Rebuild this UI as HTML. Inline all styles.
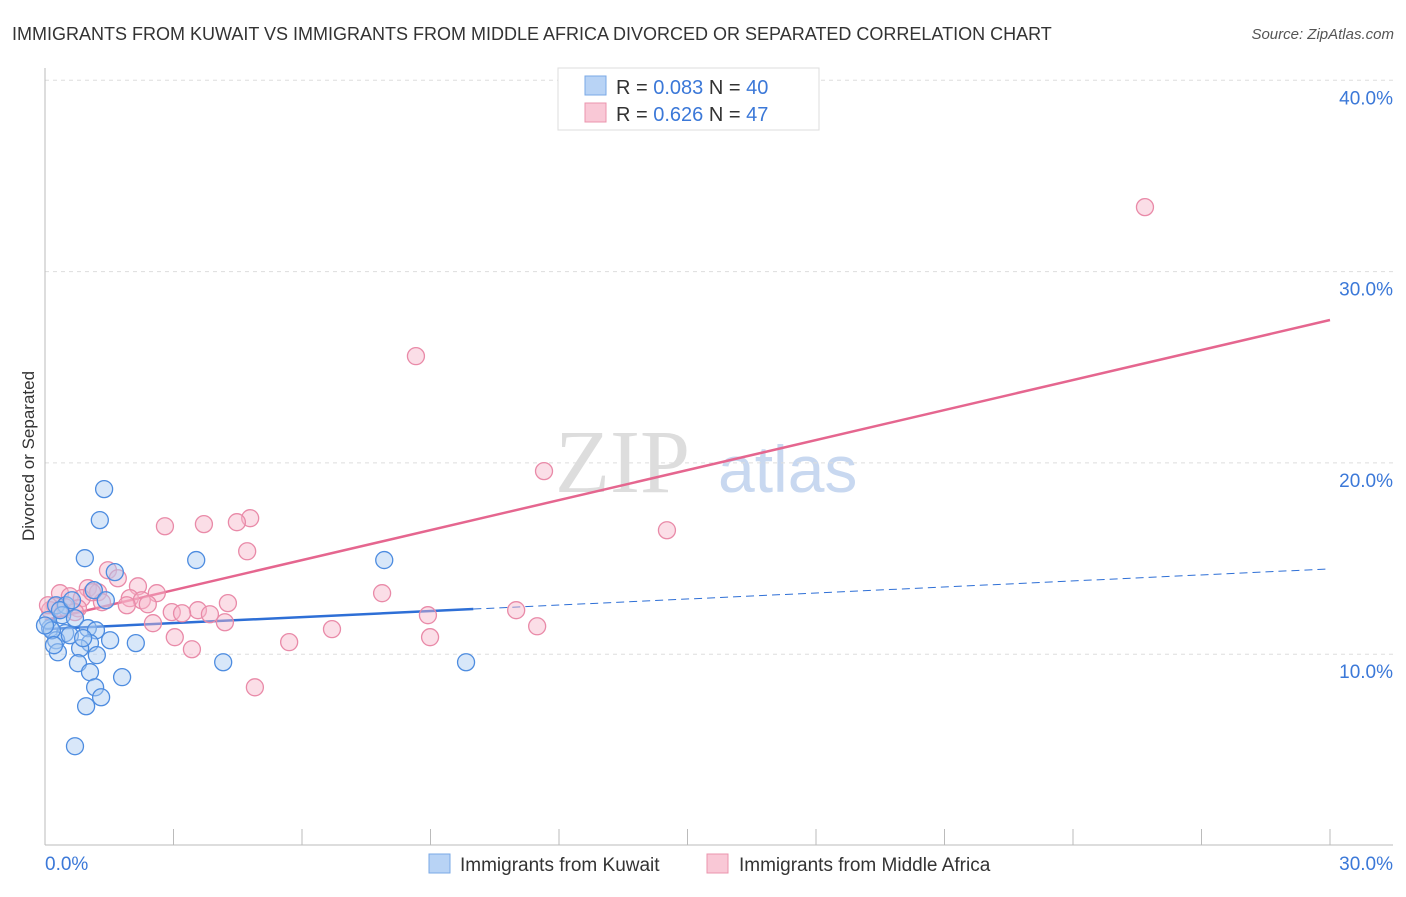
<!DOCTYPE html>
<html><head><meta charset="utf-8"><style>
body{margin:0;background:#fff;font-family:"Liberation Sans",sans-serif}
</style></head><body>
<svg width="1406" height="892" viewBox="0 0 1406 892" xmlns="http://www.w3.org/2000/svg">
<text x="12" y="40" font-size="18" fill="#333">IMMIGRANTS FROM KUWAIT VS IMMIGRANTS FROM MIDDLE AFRICA DIVORCED OR SEPARATED CORRELATION CHART</text>
<text x="1394" y="39" font-size="15" fill="#555" font-style="italic" text-anchor="end">Source: ZipAtlas.com</text>
<text x="34" y="456" font-size="17" fill="#333" text-anchor="middle" transform="rotate(-90 34 456)">Divorced or Separated</text>
<g><text x="555" y="492" font-size="90" fill="#ddd" font-family="Liberation Serif,serif">ZIP</text><text x="718" y="492" font-size="66" fill="#c8d8f0">atlas</text></g>
<g id="grid"></g><g id="axes"></g><g id="trend"></g><g id="pts"></g>
<g>
<rect x="558" y="68" width="261" height="62" fill="#fff" stroke="#ddd"/>
<rect x="585" y="76" width="21" height="19" fill="#b8d3f5" stroke="#7aa8e6"/>
<text x="616" y="94" font-size="20" fill="#333">R = <tspan fill="#3b78d8">0.083</tspan>   N = <tspan fill="#3b78d8">40</tspan></text>
<rect x="585" y="103" width="21" height="19" fill="#f9c8d6" stroke="#eb94ad"/>
<text x="616" y="121" font-size="20" fill="#333">R = <tspan fill="#3b78d8"> 0.626</tspan>   N = <tspan fill="#3b78d8"> 47</tspan></text>
</g>
<g>
<rect x="429" y="854" width="21" height="19" fill="#b8d3f5" stroke="#7aa8e6"/>
<text x="460" y="871" font-size="19" fill="#333">Immigrants from Kuwait</text>
<rect x="707" y="854" width="21" height="19" fill="#f9c8d6" stroke="#eb94ad"/>
<text x="739" y="871" font-size="19" fill="#333">Immigrants from Middle Africa</text>
</g>
</svg>
<script>
const yTicks=[10,20,30,40];
const yTickLabels=["10.0%","20.0%","30.0%","40.0%"];
const xTickCount=10;
const blueX=[1.38,1.28,0.93,3.53,7.92,1.63,1.14,1.42,0.26,0.49,0.40,0.70,0.12,1.00,1.19,0.47,0.26,1.05,2.12,0.30,0.82,1.21,0.77,1.05,4.16,9.83,1.80,1.17,1.31,0.96,0.70,0.07,0.16,0.35,0.58,0.0,1.52,0.89,0.63,0.21];
const blueY=[18.63,17.01,15.02,14.92,14.92,14.29,13.35,12.82,12.56,12.56,12.04,11.88,11.36,11.36,11.25,11.10,10.73,10.58,10.58,10.10,10.31,9.95,9.53,9.06,9.58,9.58,8.80,8.27,7.75,7.28,5.19,11.78,11.25,12.30,10.99,11.5,10.73,10.84,12.82,10.47];
const pinkX=[25.68,8.66,11.65,4.79,4.48,3.71,2.80,14.52,4.72,1.47,1.70,2.17,2.61,0.35,0.58,1.00,1.24,0.86,1.98,2.26,2.40,1.91,1.33,0.23,0.12,0.77,7.87,4.27,2.96,3.57,3.20,3.85,11.00,8.94,2.52,4.20,6.70,11.49,3.03,8.99,5.70,3.43,4.90,0.47,1.10,0.07,0.70];
const pinkY=[33.37,25.58,19.57,17.11,16.90,16.80,16.69,16.48,15.38,14.39,13.97,13.55,13.19,13.19,13.03,13.45,13.24,12.93,12.93,12.82,12.61,12.56,12.72,12.51,12.30,12.40,13.19,12.67,12.20,12.30,12.14,12.09,12.30,12.04,11.62,11.67,11.31,11.46,10.89,10.89,10.63,10.26,8.27,12.46,13.24,12.56,12.20];
const blueTrend=[11.31,0.105]; // intercept, slope
const pinkTrend=[11.78,0.523];
const X=v=>45+v/30*1285, Y=v=>845.5-v*19.13;
const NS="http://www.w3.org/2000/svg";
function mk(t,a,p){const e=document.createElementNS(NS,t);for(const k in a)e.setAttribute(k,a[k]);document.getElementById(p).appendChild(e);return e;}
yTicks.forEach((v,i)=>{
 const l=mk('line',{x1:45,x2:1393,y1:Y(v),y2:Y(v),stroke:'#ddd','stroke-dasharray':'4,4'},'grid');
 
 
 const t=mk('text',{x:1393,y:Y(v)+24,'font-size':19,fill:'#3b78d8','text-anchor':'end'},'grid');
 t.textContent=yTickLabels[i];
 
 
});
let a=mk('line',{x1:45,x2:45,y1:68,y2:845,stroke:'#bbb'},'axes');


a=mk('line',{x1:45,x2:1393,y1:845,y2:845,stroke:'#bbb'},'axes');


for(let i=0;i<=xTickCount;i++){const x=X(i*30/xTickCount);
 const t=mk('line',{x1:x,x2:x,y1:829,y2:845,stroke:'#bbb'},'axes');
 
 }
let tl=mk('text',{x:45,y:870,'font-size':19,fill:'#3b78d8'},'axes');tl.textContent='0.0%';


tl=mk('text',{x:1393,y:870,'font-size':19,fill:'#3b78d8','text-anchor':'end'},'axes');tl.textContent='30.0%';


function pts(xs,ys,fill,stroke,name){xs.forEach((x,i)=>{const c=mk('circle',{cx:X(x),cy:Y(ys[i]),r:8.5,fill:fill,'fill-opacity':0.45,stroke:stroke,'stroke-width':1.3},'pts');
 
 });}
pts(pinkX,pinkY,'#f7b6ca','#e98aa8','middle-africa-point');
pts(blueX,blueY,'#a9c9f2','#4d8ce0','kuwait-point');
const ty=(t,x)=>Y(t[0]+t[1]*x);
let l=mk('line',{x1:X(0),y1:ty(blueTrend,0),x2:X(10),y2:ty(blueTrend,10),stroke:'#2e6fd6','stroke-width':2.5},'trend');


l=mk('line',{x1:X(10),y1:ty(blueTrend,10),x2:X(30),y2:ty(blueTrend,30),stroke:'#2e6fd6','stroke-width':1,'stroke-dasharray':'8,5'},'trend');


l=mk('line',{x1:X(0),y1:ty(pinkTrend,0),x2:X(30),y2:ty(pinkTrend,30),stroke:'#e5668f','stroke-width':2.5},'trend');


</script>
</body></html>
